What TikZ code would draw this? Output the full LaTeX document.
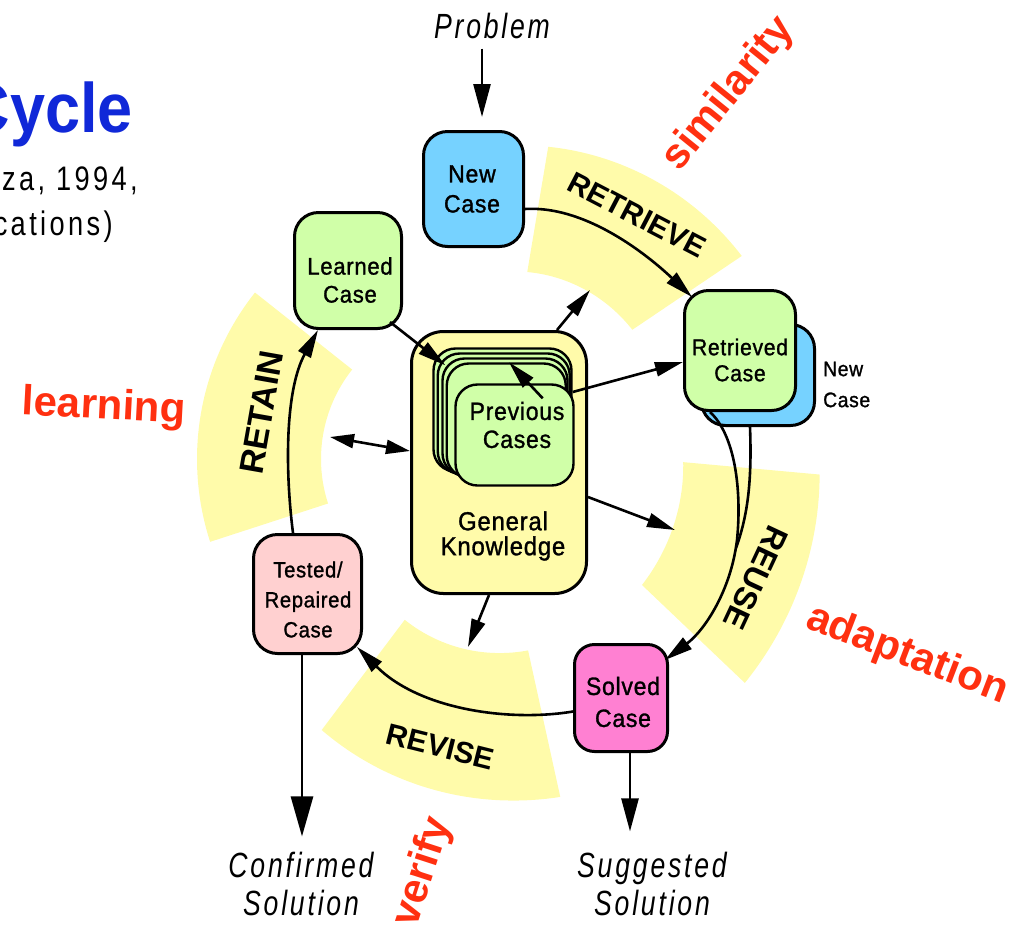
\documentclass[tikz,border=0pt]{standalone}
\usepackage{fontspec}
\setmainfont{Liberation Sans}
\newfontfamily\nodef{Liberation Sans}[FakeStretch=0.92,LetterSpace=3,FakeBold=1.2]
\newfontfamily\itf{Liberation Sans}[FakeStretch=0.76,LetterSpace=8]
\newfontfamily\subf{Liberation Sans}[FakeStretch=0.8,LetterSpace=10]
\newfontfamily\titf{Liberation Sans}[FakeStretch=0.9]
\usetikzlibrary{arrows.meta}
\definecolor{bandc}{RGB}{255,251,170}
\definecolor{greenc}{RGB}{208,255,168}
\definecolor{bluec}{RGB}{118,210,255}
\definecolor{pinkc}{RGB}{255,208,208}
\definecolor{magc}{RGB}{255,128,210}
\definecolor{redc}{RGB}{255,48,16}
\definecolor{titlec}{RGB}{16,40,216}
\begin{document}
\begin{tikzpicture}[x=1pt,y=-1pt,
  box/.style={draw, line width=3pt, rounded corners=24pt, inner sep=0pt},
  card/.style={draw, line width=2.4pt, rounded corners=22pt, inner sep=0pt, fill=greenc},
  txt/.style={inner sep=0pt, align=center},
  conn/.style={line width=2.6pt, -{Triangle[length=28pt,width=14pt]}},
  dconn/.style={line width=2.6pt, {Triangle[length=24pt,width=14pt]}-{Triangle[length=24pt,width=14pt]}},
  bigconnA/.style={line width=2.8pt, -{Triangle[length=40pt,width=22pt]}},
  bigconnB/.style={line width=2.6pt, -{Triangle[length=33pt,width=17pt]}},
  bandlabel/.style={inner sep=0pt, font={\bfseries\fontsize{30}{30}\selectfont}},
  redlabel/.style={inner sep=0pt, text=redc, font={\bfseries\fontsize{42}{42}\selectfont}},
  itlabel/.style={inner sep=0pt, align=center, font={\itf\itshape\fontsize{35}{38}\selectfont}}
]
\useasboundingbox (0,0) rectangle (1017,930);
\clip (0,0) rectangle (1017,930);

% yellow bands
\fill[bandc] plot[domain=34:80.5,samples=40] ({503+(156-(\x-34)*0.1935)*cos(\x)},{417-(156-(\x-34)*0.1935)*sin(\x)})
  -- plot[domain=80.5:34,samples=40] ({503+(288-(\x-34)*0.301)*cos(\x)},{417-(288-(\x-34)*0.301)*sin(\x)}) -- cycle;
\fill[bandc] plot[domain=141.6:198,samples=40] ({465+144*cos(\x)},{459-144*sin(\x)})
  -- plot[domain=198:141.6,samples=40] ({465+268*cos(\x)},{459-268*sin(\x)}) -- cycle;
\fill[bandc] plot[domain=-43.6:-5.2,samples=40] ({495+(189+(-5.2-\x)*0.3646)*cos(\x)},{445-(189+(-5.2-\x)*0.3646)*sin(\x)})
  -- plot[domain=-5.2:-43.6,samples=40] ({495+(326+(-5.2-\x)*0.495)*cos(\x)},{445-(326+(-5.2-\x)*0.495)*sin(\x)}) -- cycle;
\fill[bandc] plot[domain=233:282.4,samples=40] ({495+(150+(\x-233)*0.081)*cos(\x)},{500-(150+(\x-233)*0.081)*sin(\x)})
  -- plot[domain=282.4:233,samples=40] ({495+(288+(\x-233)*0.324)*cos(\x)},{500-(288+(\x-233)*0.324)*sin(\x)}) -- cycle;

% band labels
\node[bandlabel, rotate=-27.5] (lretrieve) at (637,215) {RETRIEVE};
\node[bandlabel, rotate=80, font={\bfseries\fontsize{34}{34}\selectfont}] (lretain) at (261.5,412.5) {RETAIN};
\node[bandlabel, rotate=-115, font={\bfseries\fontsize{32}{32}\selectfont}] (lreuse) at (756,578) {REUSE};
\node[bandlabel, rotate=-14] (lrevise) at (440.5,746.5) {REVISE};

% red labels
\node[redlabel, rotate=51] (similarity) at (729,94) {similarity};
\node[redlabel, rotate=-3] (learning) at (104,408) {learning};
\node[redlabel, rotate=-21] (adaptation) at (907,655) {adaptation};
\node[redlabel, rotate=72] (verify) at (423,872) {verify};

% title
\node[anchor=base east, inner sep=0pt, text=titlec, font={\titf\bfseries\fontsize{70}{70}\selectfont}] (title) at (133,132) {Cycle};
\node[anchor=base east, inner sep=0pt, font={\subf\fontsize{34}{34}\selectfont}] (sub1) at (138,190) {za, 1994,};
\node[anchor=base east, inner sep=0pt, font={\subf\fontsize{34}{34}\selectfont}] (sub2) at (113,235) {cations)};

% general knowledge and case stack
\node[box, fill=bandc, minimum width=175pt, minimum height=262pt, rounded corners=32pt] (gk) at (499,462.5) {};
\node[txt, font={\nodef\fontsize{26}{25}\selectfont}] (gktxt) at (503,536) {General\\Knowledge};
\node[card, minimum width=138pt, minimum height=123pt] (pc1) at (502.5,410) {};
\node[card, minimum width=132pt, minimum height=120pt] (pc2) at (503.75,413.5) {};
\node[card, minimum width=125pt, minimum height=117pt] (pc3) at (505,417) {};
\node[card, minimum width=119pt, minimum height=114pt] (pc4) at (506.25,420.5) {};
\node[card, minimum width=118pt, minimum height=101pt] (pc5) at (514.5,435) {};
\node[txt, font={\nodef\fontsize{25}{28}\selectfont}] (pctxt) at (517,425) {Previous\\Cases};

% case nodes
\node[box, fill=bluec, minimum width=113pt, minimum height=101pt] (nc2) at (758,375) {};
\node[box, fill=greenc, minimum width=111pt, minimum height=120pt] (retr) at (740,350.5) {};
\node[txt, font={\nodef\fontsize{23}{26}\selectfont}] (retrtxt) at (740,360) {Retrieved\\Case};
\node[anchor=west, inner sep=0pt, align=left, font={\nodef\fontsize{21}{31}\selectfont}] (nc2txt) at (823,384.5) {New\\Case};

\node[box, fill=bluec, minimum width=100pt, minimum height=115pt] (newcase) at (473.5,189) {};
\node[txt, font={\nodef\fontsize{25}{30}\selectfont}] (newcasetxt) at (472,189) {New\\Case};

\node[box, fill=greenc, minimum width=107pt, minimum height=116pt] (learned) at (348,270.5) {};
\node[txt, font={\nodef\fontsize{24}{28}\selectfont}] (learnedtxt) at (350,280) {Learned\\Case};

\node[box, fill=pinkc, minimum width=108pt, minimum height=119pt] (tested) at (307.5,594) {};
\node[txt, font={\nodef\fontsize{22}{30}\selectfont}] (testedtxt) at (308,599.5) {Tested/\\Repaired\\Case};

\node[box, fill=magc, minimum width=93pt, minimum height=107pt, rounded corners=20pt] (solved) at (621,698) {};
\node[txt, font={\nodef\fontsize{25}{32}\selectfont}] (solvedtxt) at (623,702) {Solved\\Case};

% outer texts
\node[itlabel] (problem) at (492,25.5) {Problem};
\node[itlabel] (confirmed) at (301,883.5) {Confirmed\\Solution};
\node[itlabel] (suggested) at (652,883.5) {Suggested\\Solution};

% free ends
\coordinate (t1) at (590,290);
\coordinate (t2) at (330,437);
\coordinate (t3) at (675,530);
\coordinate (t4) at (468,647);

% connectors
\draw[bigconnB] ([xshift=-10pt,yshift=-10pt]problem.south) -- ([xshift=8.5pt,yshift=13pt]newcase.north);
\draw[conn] ([yshift=-20pt]newcase.east) .. controls (590,205) and (655,262) .. ([xshift=9pt,yshift=-8pt]retr.north west);
\draw[line width=2.6pt] ([xshift=-8pt]nc2.south) .. controls (752,480) and (748,515) .. (736,548);
\draw[conn] ([xshift=-30pt]retr.south) .. controls (735,435) and (742,490) .. (737,540) .. controls (731,590) and (705,630) .. ([xshift=-4pt,yshift=-17pt]solved.north east);
\draw[conn] ([yshift=-13.5pt]solved.west) .. controls (510,722) and (420,710) .. ([xshift=-6pt,yshift=8pt]tested.south east);
\draw[conn] ([xshift=-14.5pt]tested.north) .. controls (285,470) and (285,390) .. ([xshift=-30pt]learned.south);
\draw[conn] ([xshift=-13pt,yshift=8pt]learned.south east) -- ([xshift=13pt,yshift=-18pt]pc1.north west);
\draw[conn] ([xshift=-32pt,yshift=-15pt]pc5.north east) -- ([xshift=6.5pt,yshift=-15pt]pc1.north);
\draw[conn] ([yshift=18pt]pc1.east) -- ([yshift=-11.5pt]retr.west);
\draw[conn] ([xshift=58pt]gk.north) -- (t1);
\draw[dconn] ([yshift=11.5pt]gk.west) -- (t2);
\draw[conn] ([yshift=-34.5pt]gk.east) -- (t3);
\draw[conn] ([xshift=-10pt]gk.south) -- (t4);
\draw[bigconnA] ([xshift=-5.5pt]tested.south) -- ([xshift=1pt,yshift=15pt]confirmed.north);
\draw[bigconnB] ([xshift=9pt]solved.south) -- ([xshift=-22pt,yshift=20pt]suggested.north);
\end{tikzpicture}
\end{document}
